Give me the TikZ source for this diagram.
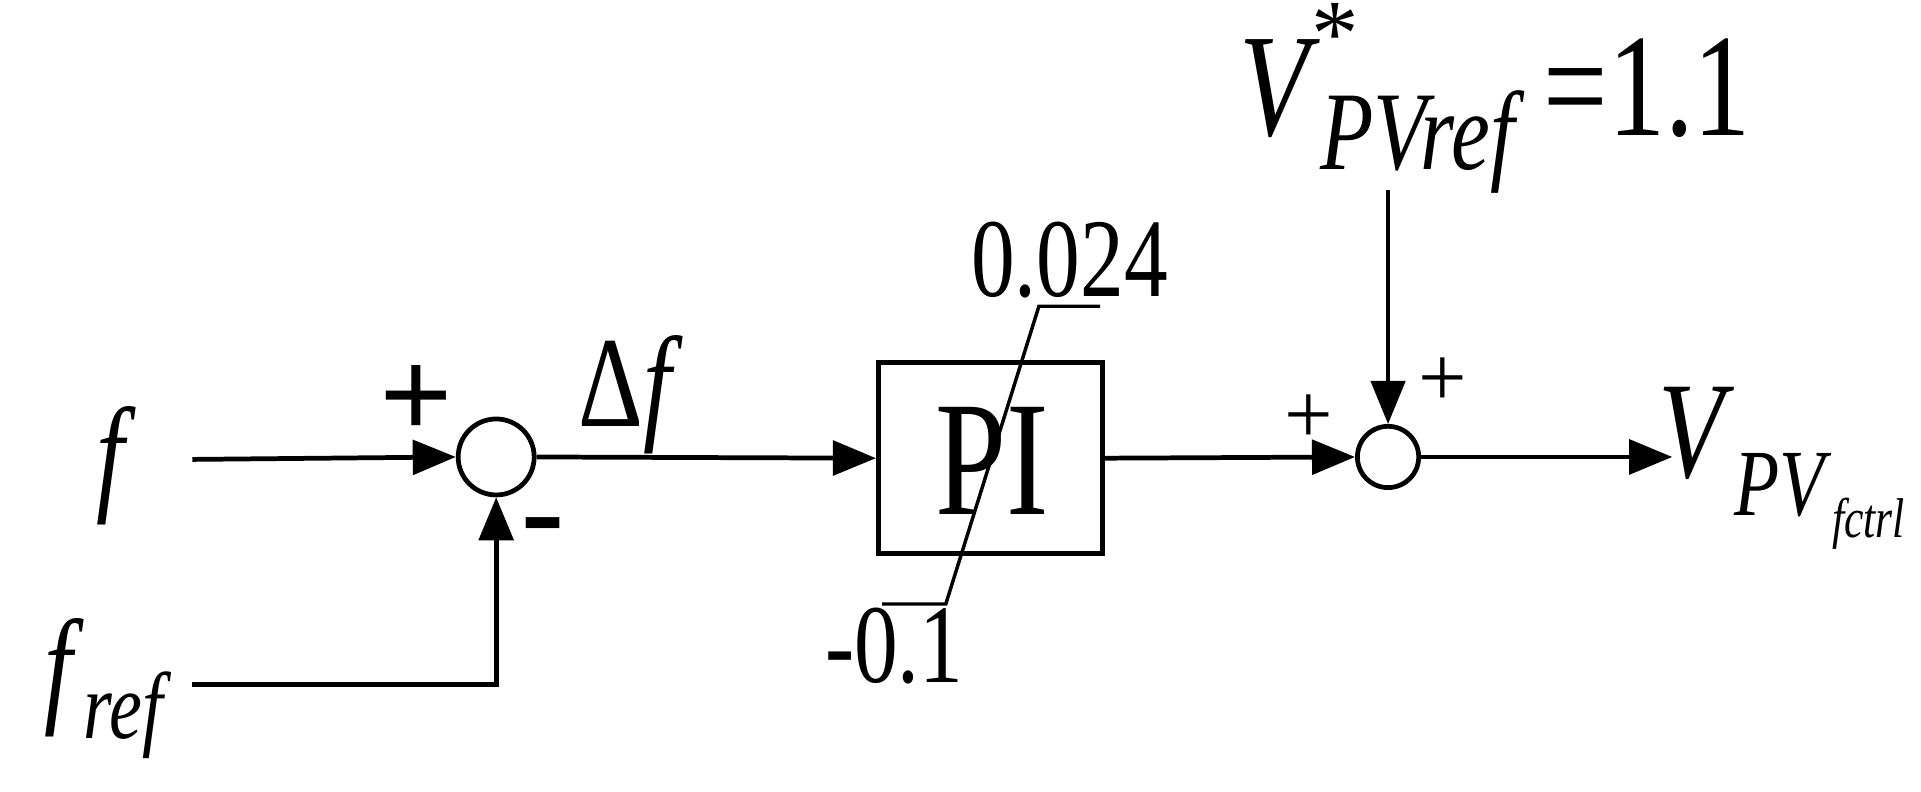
\documentclass[tikz,border=0pt]{standalone}
\usepackage{fontspec}
\setmainfont{Liberation Serif}
\usetikzlibrary{arrows.meta}
\newcommand{\cond}[1]{\scalebox{0.78}[1]{#1}}
\begin{document}
\begin{tikzpicture}[x=0.01cm,y=-0.01cm,line width=1.1pt,
  arr/.style={-{Triangle[length=10pt,width=8pt]}},
  sumc/.style={circle,draw,inner sep=0pt},
  lbl/.style={inner sep=0pt}]
\useasboundingbox (0,0) rectangle (1568,646);
\node[lbl,font=\fontsize{30}{32}\selectfont] (f) at (95,380) {\cond{\textit{f}}};
\node[lbl,font=\fontsize{30}{32}\selectfont] (fref) at (88,562) {\cond{\textit{f}\raisebox{-0.5ex}{\fontsize{22}{24}\selectfont\textit{ref}}}};
\node[sumc,minimum size=0.62cm] (s1) at (405,373) {};
\node[sumc,minimum size=0.50cm] (s2) at (1133,373) {};
\node[draw,minimum width=1.83cm,minimum height=1.56cm,inner sep=0pt] (pi) at (808.5,374) {};
\node[lbl,font=\fontsize{38}{40}\selectfont] (pit) at (810,376) {\cond{PI}};
\coordinate (fs) at (157,375);
\draw[arr] (fs) -- (s1.west);
\coordinate (frs) at (157,559);
\coordinate (frc) at (405,559);
\draw[arr] (frs) -- (frc) -- (s1.south);
\draw[arr] (s1.east) -- (pi.west);
\draw[arr] (pi.east) -- (s2.west);
\coordinate (vtop) at (1133,155);
\draw[arr,line width=0.8pt] (vtop) -- (s2.north);
\coordinate (vout) at (1365,373);
\draw[arr] (s2.east) -- (vout);
\coordinate (l1) at (720,493); \coordinate (l2) at (772,493);
\coordinate (l3) at (848,250); \coordinate (l4) at (898,250);
\draw[line width=0.8pt] (l1) -- (l2) -- (l3) -- (l4);
\node[lbl,font=\fontsize{30}{32}\selectfont\bfseries] (p1) at (340,328) {+};
\node[lbl,font=\fontsize{30}{32}\selectfont\bfseries] (m1) at (443,437) {-};
\node[lbl,font=\fontsize{20}{22}\selectfont] (p2) at (1068,342) {+};
\node[lbl,font=\fontsize{20}{22}\selectfont] (p3) at (1178,312) {+};
\node[lbl,font=\fontsize{30}{32}\selectfont] (df) at (515,322) {\cond{Δ\textit{f}}};
\node[lbl,font=\fontsize{26}{28}\selectfont] (hi) at (873,212) {\cond{0.024}};
\node[lbl,font=\fontsize{26}{28}\selectfont] (lo) at (730,527) {\cond{-0.1}};
\node[lbl,font=\fontsize{34}{36}\selectfont,anchor=west] (vref) at (1010,95) {\cond{\textit{V}\raisebox{-0.5ex}{\fontsize{26}{28}\selectfont\textit{PVref}}\,=1.1}};
\node[lbl,font=\fontsize{22}{24}\selectfont] (star) at (1090,28) {*};
\node[lbl,font=\fontsize{32}{34}\selectfont,anchor=west] (vpv) at (1352,382) {\cond{\textit{V}\raisebox{-0.6ex}{\fontsize{22}{24}\selectfont\textit{PV}\raisebox{-0.5ex}{\fontsize{13}{14}\selectfont\textit{fctrl}}}}};
\end{tikzpicture}
\end{document}
